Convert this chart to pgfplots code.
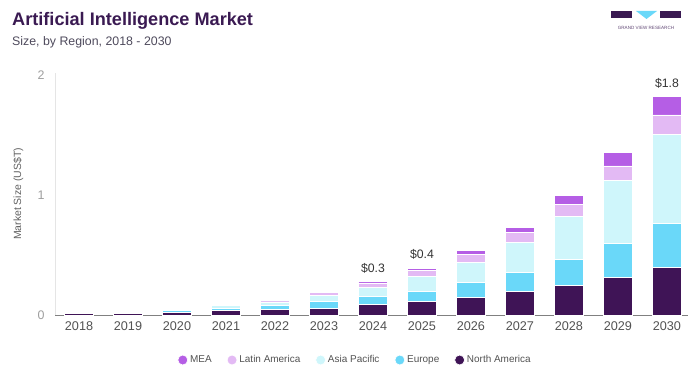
\documentclass[border=0pt]{standalone}
\usepackage{pgfplots}
\usepackage{pgfplotstable}
\pgfplotsset{compat=1.18}
\usepackage{fontspec}
\setmainfont{Liberation Sans}
\definecolor{cNA}{HTML}{3F1456}
\definecolor{cEU}{HTML}{6AD8F9}
\definecolor{cAP}{HTML}{CFF6FB}
\definecolor{cLA}{HTML}{E3BAF4}
\definecolor{cMEA}{HTML}{B55EE5}
\definecolor{titlec}{HTML}{3A1A52}
\definecolor{subc}{HTML}{4E4A5C}
\pgfplotsset{dotleg/.style={legend image code/.code={\fill[##1] (0bp,0bp) circle (5bp);}}}
\pgfplotstableread{
x NA EU AP LA MEA
0 0.010 0.001 0.001 0.0005 0.0003
1 0.015 0.006 0.006 0.003 0.001
2 0.022 0.014 0.014 0.007 0.003
3 0.035 0.022 0.022 0.010 0.004
4 0.044 0.035 0.030 0.015 0.006
5 0.058 0.052 0.050 0.030 0.010
6 0.089 0.063 0.078 0.037 0.013
7 0.110 0.090 0.120 0.050 0.020
8 0.144 0.125 0.171 0.065 0.033
9 0.200 0.156 0.247 0.083 0.047
10 0.248 0.216 0.361 0.100 0.075
11 0.314 0.283 0.522 0.123 0.111
12 0.397 0.367 0.744 0.159 0.153
}\data
\begin{document}
\begin{tikzpicture}
\useasboundingbox (0,0) rectangle (694bp,385bp);
% title
\node[anchor=base west, inner sep=0, font=\fontsize{18.2}{20}\selectfont\bfseries, text=titlec] at (12bp,359bp) {Artificial Intelligence Market};
\node[anchor=base west, inner sep=0, font=\fontsize{12.4}{14}\selectfont, text=subc] at (12bp,339bp) {Size, by Region, 2018 - 2030};
% logo
\fill[titlec] (611bp,367bp) rectangle (632bp,374bp);
\fill[cEU] (636bp,374bp) -- (657bp,374bp) -- (646.5bp,366bp) -- cycle;
\fill[titlec] (660bp,367bp) rectangle (681bp,374bp);
\node[anchor=base, inner sep=0, font=\fontsize{4.6}{5}\selectfont, text=titlec!80] at (646bp,355bp) {GRAND VIEW RESEARCH};
\begin{axis}[
  at={(55bp,70bp)}, anchor=south west,
  scale only axis, width=633bp, height=242bp,
  xmin=-0.49, xmax=12.43, ymin=0, ymax=2.017,
  ybar stacked, bar width=29bp,
  axis x line=bottom, axis y line=left,
  x axis line style={-, draw=black!50, line width=0.6bp},
  y axis line style={-, draw=black!10, line width=0.8bp},
  xtick={0,...,12},
  xticklabels={2018,2019,2020,2021,2022,2023,2024,2025,2026,2027,2028,2029,2030},
  ytick={0,1,2},
  major tick length=0pt,
  xticklabel style={font=\fontsize{12.7}{14}\selectfont, text=black!68, yshift=-3bp},
  yticklabel style={font=\fontsize{12.5}{14}\selectfont, text=black!38, xshift=-7bp},
  /pgf/number format/assume math mode=true,
  ylabel={Market Size (US\$T)},
  ylabel style={at={(axis description cs:-0.058,0.5)}, anchor=center, font=\fontsize{10.5}{12}\selectfont, text=black!62},
  legend columns=5, reverse legend,
  legend style={draw=none, fill=none, at={(0.474,-0.186)}, anchor=center,
    font=\fontsize{10}{11}\selectfont, text=black!68,
    /tikz/every even column/.append style={column sep=13bp}},
  every axis plot/.append style={draw=white, line width=0.7bp},
]
\addplot[fill=cNA, dotleg] table[x=x, y=NA] {\data};
\addlegendentry{North America}
\addplot[fill=cEU, dotleg] table[x=x, y=EU] {\data};
\addlegendentry{Europe}
\addplot[fill=cAP, dotleg] table[x=x, y=AP] {\data};
\addlegendentry{Asia Pacific}
\addplot[fill=cLA, dotleg] table[x=x, y=LA] {\data};
\addlegendentry{Latin America}
\addplot[fill=cMEA, dotleg] table[x=x, y=MEA] {\data};
\addlegendentry{MEA}
\node[anchor=south, yshift=5bp, font=\fontsize{12.3}{14}\selectfont, text=black!80] at (axis cs:6,0.28) {\$0.3};
\node[anchor=south, yshift=5bp, font=\fontsize{12.3}{14}\selectfont, text=black!80] at (axis cs:7,0.39) {\$0.4};
\node[anchor=south, yshift=5bp, font=\fontsize{12.3}{14}\selectfont, text=black!80] at (axis cs:12,1.82) {\$1.8};
\end{axis}
\end{tikzpicture}
\end{document}
